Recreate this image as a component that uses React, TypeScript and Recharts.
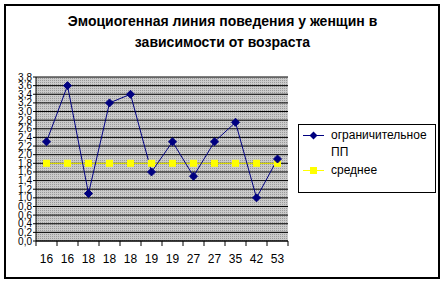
import { LineChart, Line, XAxis, YAxis, CartesianGrid } from "recharts"

// ages of the women (x categories)
const ages = ["16", "16", "18", "18", "18", "19", "19", "27", "27", "35", "42", "53"]
// "ограничительное ПП" values
const restrictive = [2.3, 3.6, 1.1, 3.2, 3.4, 1.6, 2.3, 1.5, 2.3, 2.75, 1.0, 1.9]
// "среднее" values
const average = [1.8, 1.8, 1.8, 1.8, 1.8, 1.8, 1.8, 1.8, 1.8, 1.8, 1.8, 1.8]
const yTicks = [0, 0.2, 0.4, 0.6, 0.8, 1.0, 1.2, 1.4, 1.6, 1.8, 2.0, 2.2, 2.4, 2.6, 2.8, 3.0, 3.2, 3.4, 3.6, 3.8]

const data = ages.map((age, i) => ({
  age,
  restrictive: restrictive[i],
  average: average[i],
}))

const FONT = "Arial, 'Liberation Sans', sans-serif"
const AXIS_Y = 241
const HALF = 10.5 // half a category band

const AgeTick = (props: any) => {
  const { x, payload, index } = props
  return (
    <g>
      <line x1={x - HALF} y1={AXIS_Y} x2={x - HALF} y2={AXIS_Y + 5} stroke="#000" />
      {index === ages.length - 1 && (
        <line x1={x + HALF} y1={AXIS_Y} x2={x + HALF} y2={AXIS_Y + 5} stroke="#000" />
      )}
      <text x={x} y={263} textAnchor="middle" fontSize={12} fontFamily={FONT} fill="#000">
        {payload.value}
      </text>
    </g>
  )
}

const Diamond = (props: any) => {
  const { cx, cy, index } = props
  return (
    <path
      key={"d" + index}
      d={`M${cx},${cy - 4}L${cx + 4},${cy}L${cx},${cy + 4}L${cx - 4},${cy}Z`}
      fill="#000080"
      stroke="#000080"
    />
  )
}

const Square = (props: any) => {
  const { cx, cy, index } = props
  return <rect key={"s" + index} x={cx - 3.5} y={cy - 3.5} width={7} height={7} fill="#ffff00" />
}

export default function App() {
  return (
    <div style={{ position: "absolute", left: 0, top: 0, width: 445, height: 283, background: "#fff", fontFamily: FONT }}>
      <div
        style={{
          position: "absolute",
          left: 4,
          top: 4,
          width: 436,
          height: 275,
          border: "2px solid #000",
          boxSizing: "border-box",
        }}
      />
      <div
        style={{
          position: "absolute",
          left: 0,
          top: 11,
          width: 445,
          textAlign: "center",
          fontSize: 14,
          fontWeight: "bold",
          lineHeight: "21px",
          color: "#000",
        }}
      >
        Эмоциогенная линия поведения у женщин в
        <br />
        зависимости от возраста
      </div>
      <div style={{ position: "absolute", left: 0, top: 0 }}>
        <LineChart width={445} height={283} data={data} margin={{ top: 77, right: 157, left: 6, bottom: 0 }}>
          <defs>
            <pattern id="dots" width="2" height="2" patternUnits="userSpaceOnUse">
              <rect width="2" height="2" fill="#cbcbcb" />
              <rect width="1" height="1" fill="#9a9a9a" />
            </pattern>
          </defs>
          <CartesianGrid vertical={false} stroke="#000" fill="url(#dots)" fillOpacity={1} />
          <XAxis
            dataKey="age"
            height={42}
            interval={0}
            padding={{ left: HALF, right: HALF }}
            axisLine={{ stroke: "#000" }}
            tickLine={false}
            tick={<AgeTick />}
          />
          <YAxis
            width={30}
            domain={[0, 3.8]}
            ticks={yTicks}
            interval={0}
            tickSize={3}
            tickMargin={1}
            axisLine={{ stroke: "#000" }}
            tickLine={{ stroke: "#000" }}
            tick={{ fontSize: 10, fill: "#000", fontFamily: FONT }}
            tickFormatter={(v: number) => v.toFixed(1).replace(".", ",")}
          />
          <Line
            dataKey="average"
            stroke="#ffff00"
            strokeWidth={1}
            dot={Square}
            isAnimationActive={false}
          />
          <Line
            dataKey="restrictive"
            stroke="#000080"
            strokeWidth={1}
            dot={Diamond}
            isAnimationActive={false}
          />
        </LineChart>
      </div>
      <div
        style={{
          position: "absolute",
          left: 298,
          top: 124,
          width: 138,
          height: 69,
          border: "1px solid #000",
          boxSizing: "border-box",
          fontSize: 12,
          color: "#000",
        }}
      >
        <svg width={30} height={60} style={{ position: "absolute", left: 0, top: 0 }}>
          <line x1={4} y1={10.5} x2={25} y2={10.5} stroke="#000080" />
          <path d="M14.5,6.5L18.5,10.5L14.5,14.5L10.5,10.5Z" fill="#000080" />
          <line x1={4} y1={45.5} x2={25} y2={45.5} stroke="#ffff00" />
          <rect x={11} y={42} width={7} height={7} fill="#ffff00" />
        </svg>
        <div style={{ position: "absolute", left: 32, top: 2, width: 104, lineHeight: "17px" }}>
          ограничительное ПП
        </div>
        <div style={{ position: "absolute", left: 32, top: 37, lineHeight: "17px" }}>среднее</div>
      </div>
    </div>
  )
}
